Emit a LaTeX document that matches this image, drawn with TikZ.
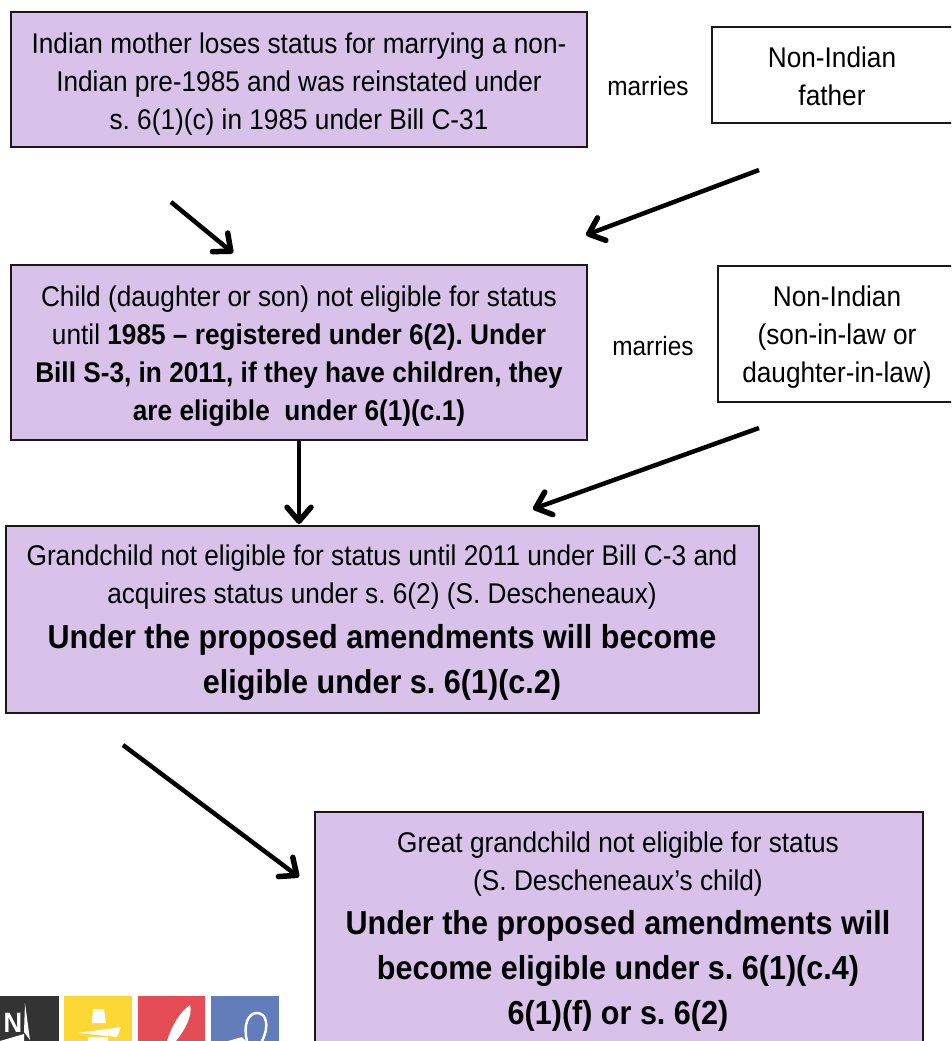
\documentclass[tikz,border=0pt]{standalone}
\usepackage{fontspec}
\setmainfont[FakeStretch=0.92]{Liberation Sans}
\usetikzlibrary{arrows.meta}
\definecolor{boxpurple}{HTML}{D9C2EA}
\definecolor{tiledark}{HTML}{333333}
\definecolor{tileyellow}{HTML}{FDD835}
\definecolor{tilered}{HTML}{E44D56}
\definecolor{tileblue}{HTML}{637DBB}
\newcommand{\bigtxt}{\fontsize{33.2}{45}\selectfont\bfseries}
\tikzset{
	statusbox/.style={draw=black!90, line width=1.8pt, fill=boxpurple, inner sep=0pt},
	plainbox/.style={draw=black!90, line width=1.8pt, fill=white, inner sep=0pt},
	boxtext/.style={align=center, inner sep=0pt, font=\fontsize{28.5}{38}\selectfont\frenchspacing},
	marriestxt/.style={inner sep=0pt, font=\fontsize{26.5}{30}\selectfont},
	descent/.style={-{Straight Barb[length=14pt,width=24pt,line width=5.5pt,round]}, line width=4.5pt},
}
\begin{document}
\begin{tikzpicture}[x=1pt, y=-1pt]
	\useasboundingbox (0,0) rectangle (951,1041);
	\clip (0,0) rectangle (951,1041);

	% Top generation
	\node[statusbox, minimum width=576pt, minimum height=135pt] (mother) at (299,79.5) {};
	\node[boxtext] (mothertxt) at (299,84)
		{Indian mother loses status for marrying a non-\\Indian pre-1985 and was reinstated under\\s. 6(1)(c) in 1985 under Bill C-31};
	\node[plainbox, minimum width=260pt, minimum height=96pt] (father) at (842,75) {};
	\node[boxtext] (fathertxt) at (832,76) {Non-Indian\\father};
	\node[marriestxt] (marries1) at (648,86) {marries};

	% Child
	\node[statusbox, minimum width=576pt, minimum height=175pt] (child) at (299,352.5) {};
	\node[boxtext] (childtxt) at (299,356)
		{Child (daughter or son) not eligible for status\\until \textbf{1985 – registered under 6(2). Under}\\\textbf{Bill S-3, in 2011, if they have children, they}\\\textbf{are eligible\ \ under 6(1)(c.1)}};
	\node[plainbox, minimum width=250pt, minimum height=136pt] (inlaw) at (843,334) {};
	\node[boxtext] (inlawtxt) at (837,337) {Non-Indian\\(son-in-law or\\daughter-in-law)};
	\node[marriestxt] (marries2) at (653,346) {marries};

	% Grandchild
	\node[statusbox, minimum width=753pt, minimum height=187pt] (grandchild) at (382.5,619.5) {};
	\node[boxtext] (grandchildtxt) at (382,623)
		{Grandchild not eligible for status until 2011 under Bill C-3 and\\acquires status under s. 6(2) (S. Descheneaux)\\[7pt]{\bigtxt Under the proposed amendments will become}\\[7pt]{\bigtxt eligible under s. 6(1)(c.2)}};

	% Great grandchild
	\node[statusbox, minimum width=608pt, minimum height=280pt] (greatgrandchild) at (619,952) {};
	\node[boxtext] (greatgrandchildtxt) at (618,932)
		{Great grandchild not eligible for status\\(S. Descheneaux’s child)\\[6pt]{\bigtxt Under the proposed amendments will}\\[7pt]{\bigtxt become eligible under s. 6(1)(c.4)}\\[7pt]{\bigtxt 6(1)(f) or s. 6(2)}};

	% Arrows
	\coordinate (a1) at (171,202);
	\coordinate (a2) at (233,253);
	\coordinate (b1) at (759,170);
	\coordinate (b2) at (586,235);
	\coordinate (c1) at (759,428);
	\coordinate (c2) at (533,509);
	\coordinate (d1) at (123,745);
	\coordinate (d2) at (299,877);
	\coordinate (e2) at (299,524);
	\draw[descent] (a1) -- (a2);
	\draw[descent] (b1) -- (b2);
	\draw[descent] (child.south) -- (e2);
	\draw[descent] (c1) -- (c2);
	\draw[descent] (d1) -- (d2);

	% Logo tiles
	\fill[tiledark] (0,996) rectangle (59,1041);
	\fill[tileyellow] (64,996) rectangle (132,1041);
	\fill[tilered] (138,996) rectangle (205,1041);
	\fill[tileblue] (211,996) rectangle (279,1041);
	\node[text=white, font=\fontsize{28}{28}\selectfont\bfseries, inner sep=0pt] (logon) at (13,1023) {N};
	\fill[white] (25,1003) -- (30,1040) -- (24,1032) -- cycle;
	\fill[white] (0,1041) -- (24,1034) -- (24,1041) -- cycle;
	\fill[white] (93,1009) -- (104,1009) -- (106,1023) -- (92,1023) -- cycle;
	\fill[white] (78,1033) -- (121,1027) -- (117,1037) -- cycle;
	\fill[white] (88,1037) -- (108,1037) -- (108,1041) -- (88,1041) -- cycle;
	\fill[white] (190,1005) .. controls (193,1015) and (185,1030) .. (176,1041) -- (167,1041) .. controls (172,1025) and (180,1012) .. (190,1005) -- cycle;
	\draw[white, line width=2.5pt] (247,1041) .. controls (243,1025) and (248,1013) .. (257,1013) .. controls (266,1013) and (270,1025) .. (262,1041);
	\fill[white] (228,1041) -- (242,1037) -- (246,1041) -- cycle;
\end{tikzpicture}
\end{document}
